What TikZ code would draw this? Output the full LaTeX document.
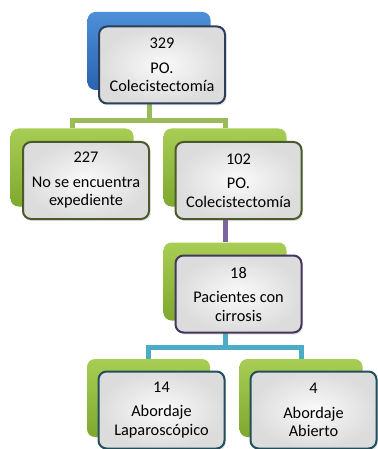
\documentclass[tikz,border=0pt]{standalone}
\usepackage{fontspec}
\setmainfont{Carlito}
\usetikzlibrary{backgrounds,shadows}
\definecolor{bluedark}{HTML}{2A63B0}
\definecolor{bluelight}{HTML}{4D8FD8}
\definecolor{greendark}{HTML}{7FA82E}
\definecolor{greenlight}{HTML}{A8CD55}
\definecolor{frontgray}{HTML}{DCDCDC}
\definecolor{edgeblue}{HTML}{2B3F5C}
\definecolor{edgegreen}{HTML}{4A5A2A}
\definecolor{edgepurple}{HTML}{46365E}
\definecolor{edgeteal}{HTML}{234E5C}
\definecolor{lnkgreen}{HTML}{9BBB59}
\definecolor{lnkpurple}{HTML}{8064A2}
\definecolor{lnkcyan}{HTML}{4BACC6}
\begin{document}
\begin{tikzpicture}[x=1pt,y=-1pt,
  backbox/.style={draw=none, rounded corners=8pt, minimum width=123pt, minimum height=78pt, inner sep=0pt},
  bluebox/.style={backbox, top color=bluelight, bottom color=bluedark},
  greenbox/.style={backbox, top color=greenlight, bottom color=greendark},
  frontbox/.style={rounded corners=8pt, minimum width=126pt, minimum height=77pt, line width=2pt,
    inner color=white!96!gray, outer color=frontgray, align=center, inner sep=0pt,
    drop shadow={shadow xshift=1.5pt, shadow yshift=-2pt, opacity=0.2},
    font=\fontsize{16.3}{18.5}\selectfont},
  link/.style={line width=5pt}
]
\useasboundingbox (0,0) rectangle (377,449);
% back boxes
\node[bluebox]  (Ab)  at (149,51) {};
\node[greenbox] (Lb)  at (72,167.5) {};
\node[greenbox] (Rb)  at (225,167.5) {};
\node[greenbox] (Cb)  at (225,281.5) {};
\node[greenbox] (LLb) at (148.5,398) {};
\node[greenbox] (RRb) at (301,398) {};
% front boxes
\node[frontbox, draw=edgeblue]   (A)  at (162,65)    {329\\[6pt]PO.\\Colecistectomía};
\node[frontbox, draw=edgegreen]  (L)  at (86,180.5)  {227\\[6pt]No se encuentra\\expediente};
\node[frontbox, draw=edgegreen]  (R)  at (238.5,180.5) {102\\[6pt]PO.\\Colecistectomía};
\node[frontbox, draw=edgepurple] (C)  at (238.5,294) {18\\[6pt]Pacientes con\\cirrosis};
\node[frontbox, draw=edgeteal]   (LL) at (161.5,410) {14\\[6pt]Abordaje\\Laparoscópico};
\node[frontbox, draw=edgeteal]   (RR) at (313.5,410) {4\\[6pt]Abordaje\\Abierto};
% connectors
\coordinate (hA) at (149,121);
\coordinate (hC) at (225,347);
\begin{scope}[on background layer]
  \draw[link, lnkgreen] (Ab.south) -- (Ab.south |- hA) -| (Lb.north);
  \draw[link, lnkgreen] (Ab.south |- hA) -| (Rb.north);
  \draw[link, lnkpurple] (Rb.south) -- (Cb.north);
  \draw[link, lnkcyan] (Cb.south) -- (Cb.south |- hC) -| (LLb.north);
  \draw[link, lnkcyan] (Cb.south |- hC) -| (RRb.north);
\end{scope}
\end{tikzpicture}
\end{document}
